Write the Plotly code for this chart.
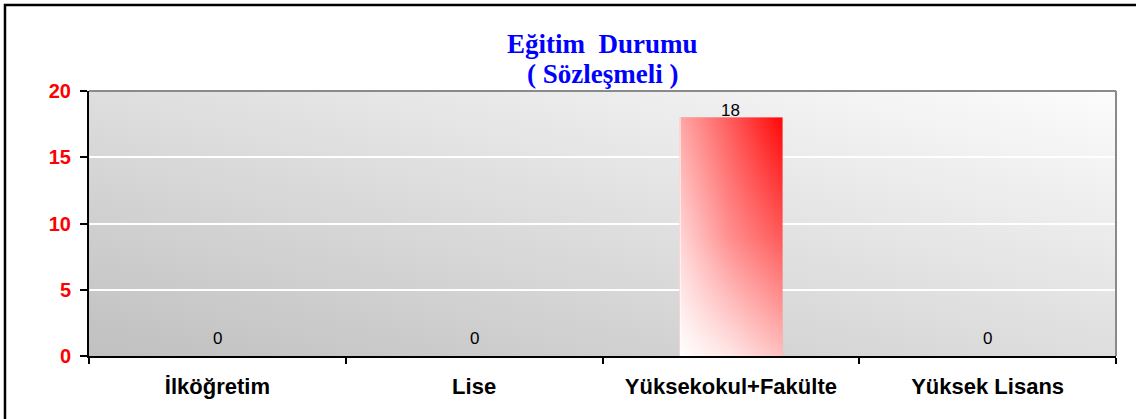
import base64
import plotly.graph_objects as go

# ---- data ----
categories = ["İlköğretim", "Lise", "Yüksekokul+Fakülte", "Yüksek Lisans"]
values = [0, 0, 18, 0]
y_ticks = [0, 5, 10, 15, 20]
title_line1 = "Eğitim  Durumu"
title_line2 = "( Sözleşmeli )"

BAR_W = 0.4

fig = go.Figure()

# bars (base colour, covered by a gradient overlay below)
fig.add_trace(go.Bar(
    x=categories, y=values, width=BAR_W,
    marker=dict(color="#ff8a8a", line=dict(width=0)),
    hoverinfo="x+y", showlegend=False,
))

# diagonal white->red gradient overlay for each bar (style matrix, rows bottom->top)
grad_z = [[-0.09, -0.25, -0.05],
          [-0.11, 0.45, 0.85],
          [0.21, 0.85, 1.73]]
eps = 0.002
for i, v in enumerate(values):
    if v <= 0:
        continue
    L, R = i - BAR_W / 2, i + BAR_W / 2
    xe = [L, L + eps, R - eps, R]
    ye = [0, v * eps, v - v * eps, v]
    fig.add_trace(go.Heatmap(
        x=xe, y=ye, z=grad_z, zmin=0, zmax=1, zsmooth="best",
        colorscale=[[0, "#ffffff"], [1, "#ff0000"]],
        showscale=False, hoverinfo="skip",
        xaxis="x2", yaxis="y",
    ))

# data labels
for c, v in zip(categories, values):
    fig.add_annotation(
        x=c, y=v, xref="x", yref="y", text=str(v), showarrow=False,
        yanchor="middle", yshift=18 if v == 0 else 7.5,
        font=dict(family="Liberation Sans, Arial", size=17, color="#000000"),
    )

# title (two lines)
for txt, yy in ((title_line1, 1.1774), (title_line2, 1.0642)):
    fig.add_annotation(
        x=0.5, y=yy, xref="paper", yref="paper", text="<b>" + txt + "</b>",
        showarrow=False, xanchor="center", yanchor="middle",
        font=dict(family="Liberation Serif, Times New Roman", size=27, color="#0000ff"),
    )

# gradient plot background (svg image)
svg = ("<svg xmlns='http://www.w3.org/2000/svg' width='100' height='100' "
       "viewBox='0 0 100 100' preserveAspectRatio='none'>"
       "<defs><linearGradient id='g' x1='0' y1='1' x2='1' y2='0'>"
       "<stop offset='0' stop-color='#c0c0c0'/>"
       "<stop offset='1' stop-color='#fcfcfc'/>"
       "</linearGradient></defs>"
       "<rect width='100' height='100' fill='url(#g)'/></svg>")
src = "data:image/svg+xml;base64," + base64.b64encode(svg.encode()).decode()
fig.add_layout_image(dict(
    source=src, xref="paper", yref="paper", x=0, y=1, sizex=1, sizey=1,
    xanchor="left", yanchor="top", sizing="stretch", layer="below",
))

# plot-area frame (top and right, grey)
fig.add_shape(type="line", xref="paper", yref="paper", x0=0, x1=1, y0=1, y1=1,
              line=dict(color="#8a8a8a", width=2), layer="above")
fig.add_shape(type="line", xref="paper", yref="paper", x0=1, x1=1, y0=0, y1=1,
              line=dict(color="#8a8a8a", width=2), layer="above")

# outer chart border (left and top visible)
fig.add_shape(type="rect", xref="paper", yref="paper",
              x0=-0.0818, x1=1.5, y0=-1.0, y1=1.3245,
              line=dict(color="#000000", width=2.5), fillcolor="rgba(0,0,0,0)",
              layer="above")

fig.update_layout(
    width=1136, height=419,
    margin=dict(l=89, r=20, t=91, b=63),
    paper_bgcolor="#ffffff",
    plot_bgcolor="#dedede",
    bargap=0.6,
    showlegend=False,
    xaxis=dict(
        type="category", categoryorder="array", categoryarray=categories,
        range=[-0.5, 3.5],
        showline=True, linecolor="#000000", linewidth=2,
        ticks="outside", tickson="boundaries", ticklen=6, tickwidth=1.5, tickcolor="#000000",
        showgrid=False, zeroline=False,
        tickfont=dict(family="Liberation Sans, Arial", size=22, color="#000000", weight="bold"),
        ticklabelstandoff=10,
    ),
    xaxis2=dict(overlaying="x", range=[-0.5, 3.5], visible=False),
    yaxis=dict(
        range=[0, 20], tickvals=y_ticks,
        showline=True, linecolor="#000000", linewidth=2,
        ticks="outside", ticklen=7, tickwidth=1.5, tickcolor="#000000",
        showgrid=True, gridcolor="#ffffff", gridwidth=1.5,
        zeroline=False,
        tickfont=dict(family="Liberation Sans, Arial", size=20, color="#ff0000", weight="bold"),
        ticklabelstandoff=5,
    ),
)

fig.write_html(
    "out.html",
    config={"displayModeBar": False},
    post_script="document.body.style.margin='0';document.body.style.overflow='hidden';",
)
